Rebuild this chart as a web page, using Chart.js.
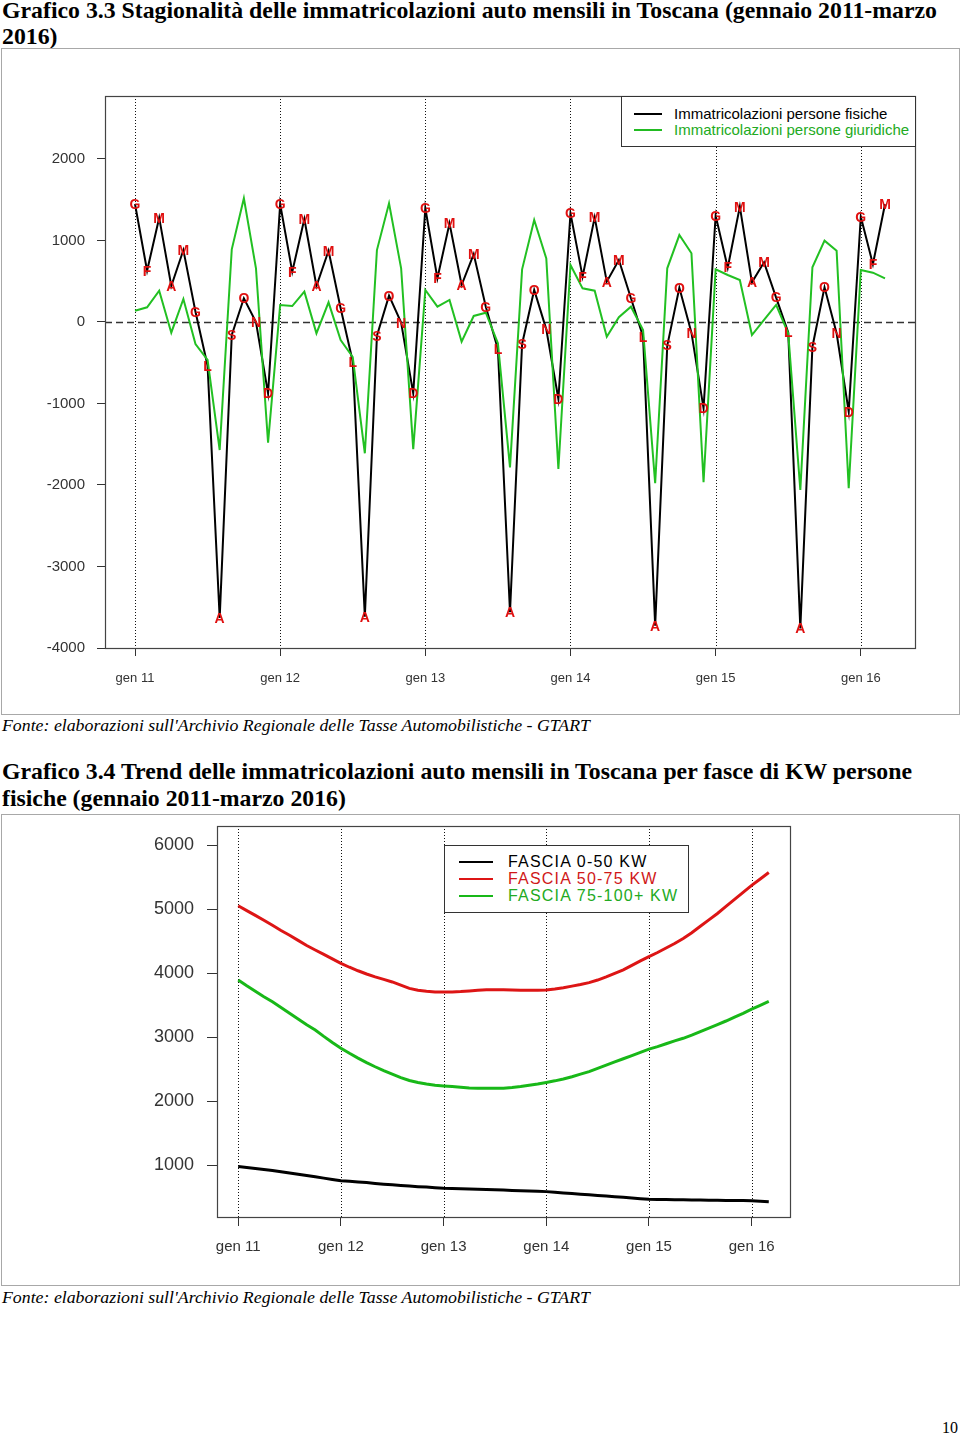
<!DOCTYPE html>
<html><head><meta charset="utf-8">
<script src="https://cdn.jsdelivr.net/npm/chart.js@4.4.1/dist/chart.umd.min.js"></script>
<style>
html,body{margin:0;padding:0;background:#fff;}
body{width:960px;height:1436px;position:relative;overflow:hidden;}
.t{position:absolute;left:2px;white-space:nowrap;font-family:"Liberation Serif","Times New Roman",serif;color:#000;transform-origin:0 0;}
.title{font-weight:bold;font-size:23px;line-height:22px;}
.src{font-style:italic;font-size:17px;line-height:17px;}
.frame{position:absolute;border:1px solid #a8a8a8;box-sizing:border-box;}
canvas{position:absolute;}
.leg{position:absolute;border:1px solid #333;background:#fff;box-sizing:border-box;font-family:"Liberation Sans",Arial,sans-serif;}
.leg .ln{position:absolute;height:2px;}
.leg .tx{position:absolute;white-space:nowrap;}
</style></head><body>

<div class="t title" id="t1a" style="top:0px">Grafico 3.3 Stagionalità delle immatricolazioni auto mensili in Toscana (gennaio 2011-marzo</div>
<div class="t title" id="t1b" style="top:26px">2016)</div>
<div class="frame" style="left:1px;top:48px;width:959px;height:667px"></div>
<div style="position:absolute;left:1px;top:48px;width:958px;height:666px"><canvas id="c1"></canvas></div>
<div class="leg" style="left:621px;top:96px;width:295px;height:51px;font-size:15px">
  <div class="ln" style="left:12px;top:16px;width:28px;background:#000"></div>
  <div class="tx" style="left:52px;top:8px;color:#000">Immatricolazioni persone fisiche</div>
  <div class="ln" style="left:12px;top:32px;width:28px;background:#22bb22"></div>
  <div class="tx" style="left:52px;top:24px;color:#22aa22">Immatricolazioni persone giuridiche</div>
</div>
<div class="t src" id="s1" style="top:717px">Fonte: elaborazioni sull'Archivio Regionale delle Tasse Automobilistiche - GTART</div>

<div class="t title" id="t2a" style="top:761px">Grafico 3.4 Trend delle immatricolazioni auto mensili in Toscana per fasce di KW persone</div>
<div class="t title" id="t2b" style="top:788px">fisiche (gennaio 2011-marzo 2016)</div>
<div class="frame" style="left:1px;top:814px;width:959px;height:472px"></div>
<div style="position:absolute;left:1px;top:814px;width:958px;height:471px"><canvas id="c2"></canvas></div>
<div class="leg" style="left:444px;top:845px;width:245px;height:68px;font-size:16px;letter-spacing:1.2px">
  <div class="ln" style="left:14px;top:15px;width:34px;background:#000"></div>
  <div class="tx" style="left:63px;top:7px;color:#000">FASCIA 0-50 KW</div>
  <div class="ln" style="left:14px;top:32px;width:34px;background:#dd1515"></div>
  <div class="tx" style="left:63px;top:24px;color:#d01818">FASCIA 50-75 KW</div>
  <div class="ln" style="left:14px;top:49px;width:34px;background:#18b818"></div>
  <div class="tx" style="left:63px;top:41px;color:#22aa22">FASCIA 75-100+ KW</div>
</div>
<div class="t src" id="s2" style="top:1289px">Fonte: elaborazioni sull'Archivio Regionale delle Tasse Automobilistiche - GTART</div>
<div class="t" style="left:942px;top:1420px;font-size:16px;line-height:16px">10</div>

<script>
// ---------- DATA ----------
const monthLetters = ['G','F','M','A','M','G','L','A','S','O','N','D'];
const yearTicks = [0,12,24,36,48,60];
const yearLabels = ['gen 11','gen 12','gen 13','gen 14','gen 15','gen 16'];

// Grafico 3.3 (gen 2011 - mar 2016)
const personeFisiche = [
  1448, 630, 1280, 442, 883, 126, -536, -3632, -160, 291, 0, -875,
  1448, 617, 1264, 442, 875, 168, -487, -3616, -168, 323, -8, -875,
  1395, 536, 1211, 454, 834, 188, -335, -3562, -270, 393, -90, -945,
  1333, 556, 1284, 495, 761, 291, -180, -3726, -290, 421, -131, -1059,
  1305, 667, 1415, 487, 732, 299, -127, -3759, -303, 425, -139, -1100,
  1292, 708, 1444
];
const personeGiuridiche = [
  139, 180, 384, -131, 282, -270, -466, -1571, 892, 1518, 659, -1481,
  209, 196, 372, -139, 241, -221, -430, -1611, 883, 1456, 659, -1560,
  393, 188, 270, -241, 74, 114, -262, -1783, 646, 1252, 781, -1804,
  699, 413, 384, -180, 58, 188, -98, -1979, 659, 1067, 843, -1967,
  646, 577, 515, -160, 25, 209, -139, -2061, 671, 998, 875, -2040,
  638, 605, 536
];
const yTicks1 = [-4000,-3000,-2000,-1000,0,1000,2000];

// Grafico 3.4 (trend)
const fascia0_50 = [
  975, 960, 945, 930, 915, 895, 875, 855, 835, 815, 795, 775,
  755, 745, 735, 725, 712, 700, 690, 680, 670, 662, 655, 645,
  636, 632, 628, 624, 620, 616, 612, 608, 603, 598, 593, 588,
  584, 574, 564, 554, 544, 534, 525, 515, 505, 495, 485, 474,
  464, 462, 460, 458, 456, 453, 452, 450, 449, 447, 446, 444,
  442, 435, 427
];
const fascia50_75 = [
  5050, 4975, 4900, 4825, 4745, 4665, 4590, 4510, 4430, 4360, 4290, 4220,
  4150, 4090, 4035, 3985, 3940, 3900, 3860, 3810, 3760, 3730, 3715, 3705,
  3705, 3705, 3710, 3720, 3730, 3740, 3740, 3740, 3735, 3730, 3730, 3730,
  3735, 3750, 3770, 3795, 3820, 3850, 3890, 3940, 3995, 4050, 4120, 4190,
  4255, 4320, 4390, 4460, 4540, 4630, 4730, 4830, 4930, 5040, 5150, 5260,
  5370, 5470, 5570
];
const fascia75_100 = [
  3890, 3800, 3715, 3630, 3550, 3460, 3370, 3280, 3190, 3110, 3010, 2915,
  2825, 2745, 2670, 2600, 2535, 2475, 2420, 2365, 2320, 2290, 2265, 2245,
  2235, 2225, 2215, 2205, 2200, 2198, 2198, 2200, 2210, 2225, 2245, 2265,
  2290, 2315, 2345, 2380, 2420, 2460, 2510, 2560, 2610, 2660, 2710, 2760,
  2810, 2850, 2895, 2940, 2980, 3030, 3085, 3140, 3195, 3250, 3310, 3370,
  3435, 3495, 3555
];
const yTicks2 = [1000,2000,3000,4000,5000,6000];

// ---------- HELPERS ----------
const toXY = arr => arr.map((v,i)=>({x:i,y:v}));
const FONT = '"Liberation Sans", Arial, sans-serif';

const decor = {
  id:'decor',
  beforeDatasetsDraw(chart, args, opts){
    const {ctx, chartArea:a, scales:{x,y}} = chart;
    ctx.save();
    ctx.strokeStyle = '#111'; ctx.lineWidth = 1; ctx.setLineDash([1,2]);
    yearTicks.forEach(v=>{
      const px = Math.round(x.getPixelForValue(v))+0.5;
      ctx.beginPath(); ctx.moveTo(px,a.top); ctx.lineTo(px,a.bottom); ctx.stroke();
    });
    if(opts.zeroLine){
      ctx.setLineDash([7,4]); ctx.strokeStyle='#333'; ctx.lineWidth=1.4;
      const py = Math.round(y.getPixelForValue(0))+0.5;
      ctx.beginPath(); ctx.moveTo(a.left,py); ctx.lineTo(a.right,py); ctx.stroke();
    }
    ctx.restore();
  },
  afterDatasetsDraw(chart, args, opts){
    const {ctx, chartArea:a} = chart;
    ctx.save();
    if(opts.letters){
      const meta = chart.getDatasetMeta(0);
      ctx.fillStyle = '#e01010';
      ctx.font = 'bold 14px ' + FONT;
      ctx.textAlign = 'center'; ctx.textBaseline = 'middle';
      meta.data.forEach((pt,i)=>{ ctx.fillText(monthLetters[i%12], pt.x, pt.y+1); });
    }
    ctx.setLineDash([]);
    ctx.strokeStyle = '#444'; ctx.lineWidth = 1.2;
    ctx.strokeRect(Math.round(a.left)+0.5, Math.round(a.top)+0.5, Math.round(a.right-a.left), Math.round(a.bottom-a.top));
    ctx.restore();
  }
};

function xScale(cfg){
  return {
    type:'linear', min:-2.48, max:64.48,
    afterBuildTicks: s => { s.ticks = yearTicks.map(v=>({value:v})); },
    ticks:{ autoSkip:false, maxRotation:0, minRotation:0, color:'#333', padding:cfg.pad,
      font:{family:FONT, size:cfg.size},
      callback: v => yearLabels[yearTicks.indexOf(v)] },
    grid:{ drawOnChartArea:false, drawTicks:true, tickLength:cfg.tick, color:'#333', lineWidth:1 },
    border:{ display:false },
    afterFit: s => { s.height = cfg.h; s.paddingLeft = 0; s.paddingRight = 0; }
  };
}
function yScale(cfg){
  return {
    type:'linear', min:cfg.min, max:cfg.max,
    afterBuildTicks: s => { s.ticks = cfg.ticks.map(v=>({value:v})); },
    ticks:{ autoSkip:false, color:'#333', padding:cfg.pad,
      font:{family:FONT, size:cfg.size}, callback: v => String(v) },
    grid:{ drawOnChartArea:false, drawTicks:true, tickLength:cfg.tick, color:'#333', lineWidth:1 },
    border:{ display:false },
    afterFit: s => { s.width = cfg.w; s.paddingTop = 0; s.paddingBottom = 0; }
  };
}
const common = {
  responsive:false, animation:false, devicePixelRatio:1,
  plugins:{ legend:{display:false}, tooltip:{enabled:false} },
  elements:{ point:{radius:0}, line:{tension:0} }
};

function fitWidth(id, w){
  const el = document.getElementById(id);
  const s = w / el.getBoundingClientRect().width;
  el.style.transform = 'scaleX(' + s + ')';
  return s;
}
function applyScale(id, s){ document.getElementById(id).style.transform = 'scaleX(' + s + ')'; }

function build(){
  const c1 = document.getElementById('c1'); c1.width = 958; c1.height = 666;
  new Chart(c1, {
    type:'line',
    data:{ datasets:[
      { label:'Immatricolazioni persone fisiche', data:toXY(personeFisiche), borderColor:'#000', borderWidth:2, order:1 },
      { label:'Immatricolazioni persone giuridiche', data:toXY(personeGiuridiche), borderColor:'#22c022', borderWidth:2, order:0 }
    ]},
    options:Object.assign({}, common, {
      layout:{ padding:{left:0, top:48, right:44, bottom:0} },
      scales:{
        x: xScale({size:13, pad:15, tick:8, h:66}),
        y: yScale({min:-4000, max:2773, ticks:yTicks1, size:15, pad:12, tick:8, w:104})
      },
      plugins:Object.assign({}, common.plugins, { decor:{ zeroLine:true, letters:true } })
    }),
    plugins:[decor]
  });

  const c2 = document.getElementById('c2'); c2.width = 958; c2.height = 471;
  new Chart(c2, {
    type:'line',
    data:{ datasets:[
      { label:'FASCIA 0-50 KW', data:toXY(fascia0_50), borderColor:'#000', borderWidth:3 },
      { label:'FASCIA 50-75 KW', data:toXY(fascia50_75), borderColor:'#dd1515', borderWidth:3 },
      { label:'FASCIA 75-100+ KW', data:toXY(fascia75_100), borderColor:'#18b818', borderWidth:3 }
    ]},
    options:Object.assign({}, common, {
      layout:{ padding:{left:0, top:12, right:169, bottom:0} },
      scales:{
        x: xScale({size:15, pad:12, tick:9, h:68}),
        y: yScale({min:187.5, max:6297, ticks:yTicks2, size:18, pad:13, tick:10, w:216})
      },
      plugins:Object.assign({}, common.plugins, { decor:{ zeroLine:false, letters:false } })
    }),
    plugins:[decor]
  });

  const s1 = fitWidth('t1a', 935); applyScale('t1b', s1);
  const s2 = fitWidth('t2a', 910); applyScale('t2b', s2);
  fitWidth('s1', 588); fitWidth('s2', 588);
}
if (document.fonts && document.fonts.ready) document.fonts.ready.then(build); else build();
</script>
</body></html>
